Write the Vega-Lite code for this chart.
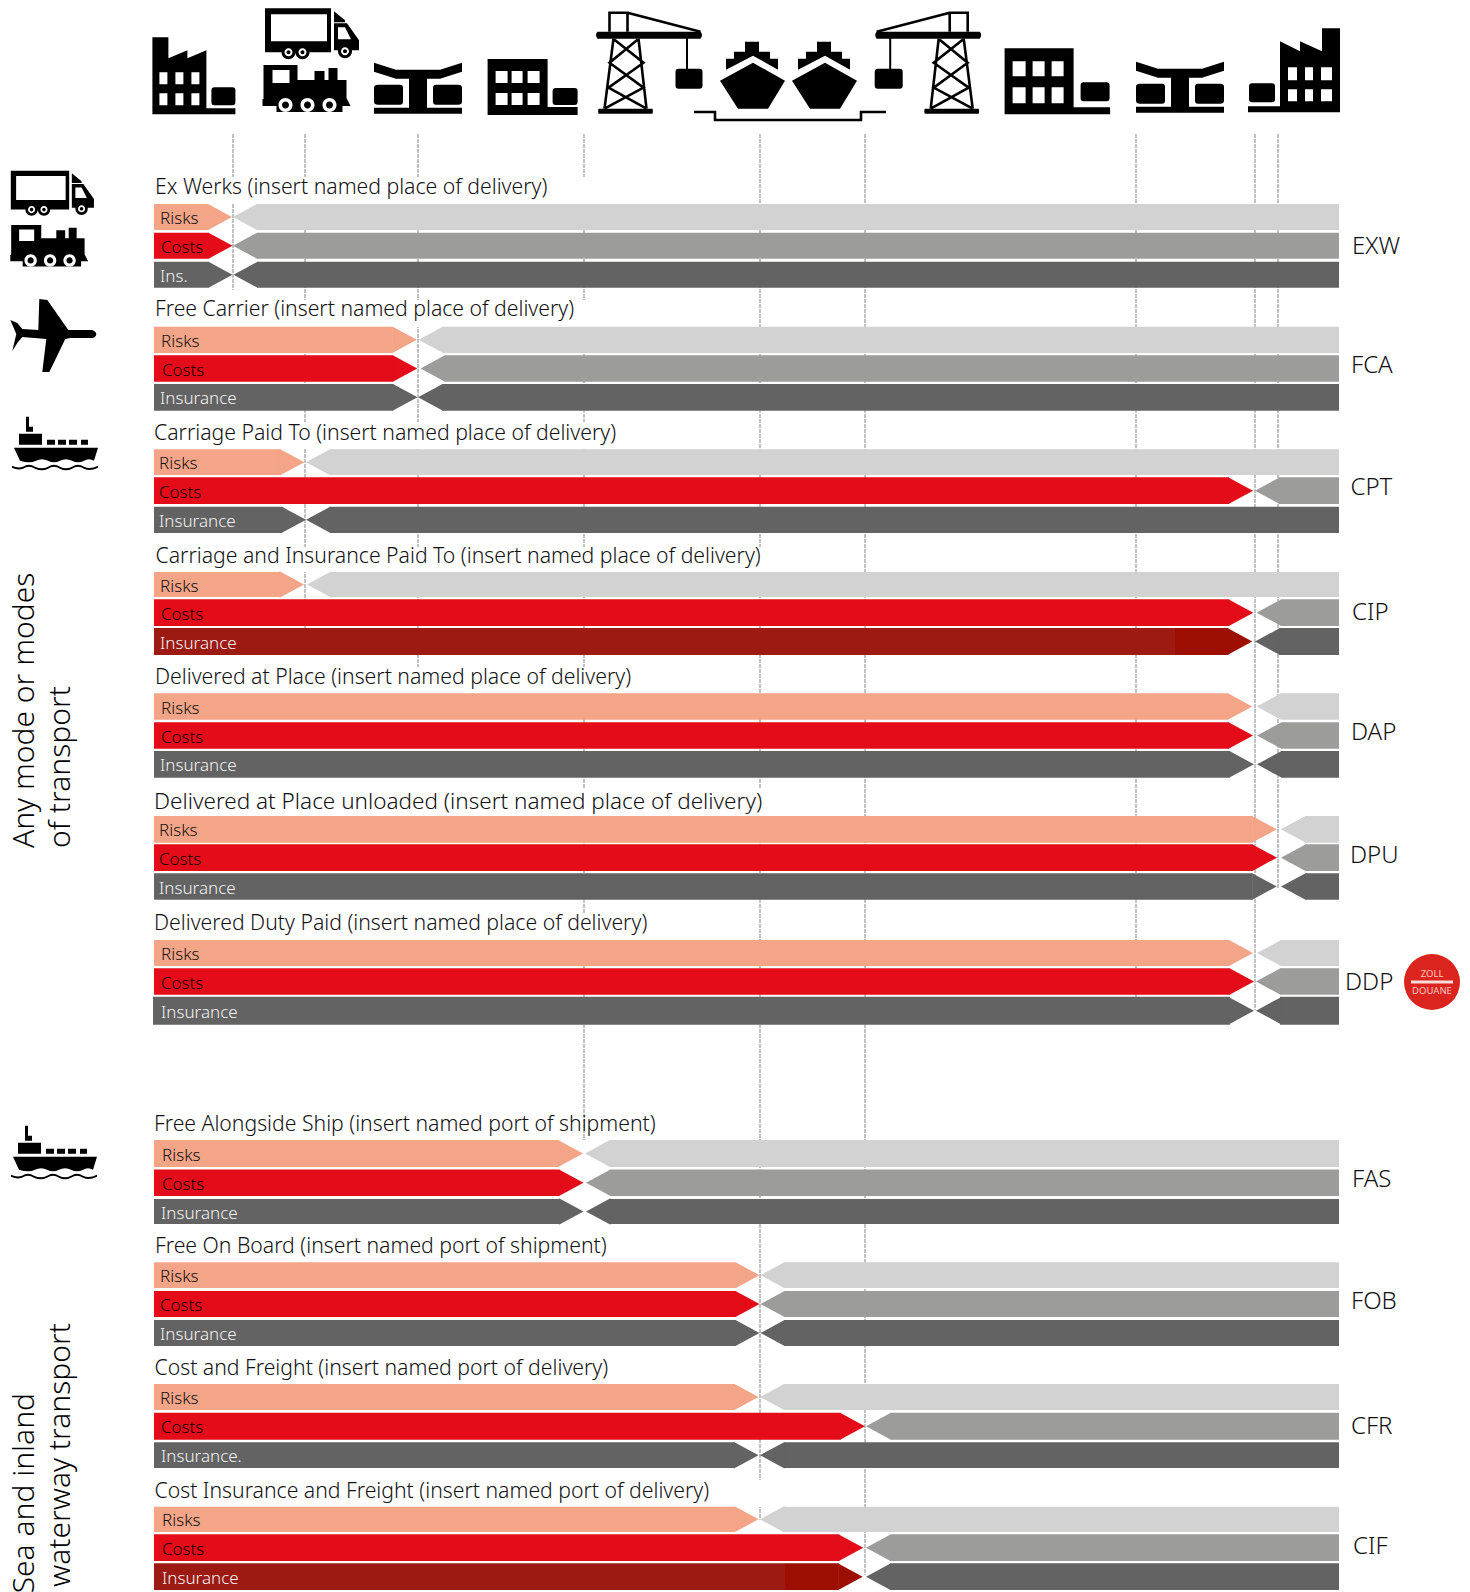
{"$schema":"https://vega.github.io/schema/vega-lite/v6.json","width":1470,"height":1592,"padding":0,"autosize":{"type":"none"},"background":"white","config":{"view":{"stroke":null},"axis":{"disable":true}},
"resolve":{"scale":{"color":"independent","shape":"independent"}},
"datasets":{
"guides":[{"x":233,"y":134,"y2":290},{"x":305,"y":134,"y2":628},{"x":418,"y":134,"y2":667},{"x":584,"y":134,"y2":1140},{"x":760,"y":134,"y2":1520},{"x":865,"y":134,"y2":1575},{"x":1136,"y":134,"y2":1000},{"x":1255,"y":134,"y2":1010},{"x":1278,"y":134,"y2":888}],
"titles":[
{"term":"EXW","title":"Ex Werks (insert named place of delivery)","x":155,"y":188,"clearTo":600,"clearTop":177,"clearBottom":204},
{"term":"FCA","title":"Free Carrier (insert named place of delivery)","x":155,"y":310,"clearTo":600,"clearTop":300,"clearBottom":327},
{"term":"CPT","title":"Carriage Paid To (insert named place of delivery)","x":154,"y":433.5,"clearTo":640,"clearTop":422,"clearBottom":449},
{"term":"CIP","title":"Carriage and Insurance Paid To (insert named place of delivery)","x":155.5,"y":556.5,"clearTo":775,"clearTop":547,"clearBottom":572},
{"term":"DAP","title":"Delivered at Place (insert named place of delivery)","x":155,"y":677.7,"clearTo":640,"clearTop":667,"clearBottom":694},
{"term":"DPU","title":"Delivered at Place unloaded (insert named place of delivery)","x":154,"y":801.5,"clearTo":775,"clearTop":789,"clearBottom":816},
{"term":"DDP","title":"Delivered Duty Paid (insert named place of delivery)","x":154,"y":923.5,"clearTo":660,"clearTop":913,"clearBottom":940},
{"term":"FAS","title":"Free Alongside Ship (insert named port of shipment)","x":154,"y":1124.7},
{"term":"FOB","title":"Free On Board (insert named port of shipment)","x":155,"y":1246.6},
{"term":"CFR","title":"Cost and Freight (insert named port of delivery)","x":154.5,"y":1369},
{"term":"CIF","title":"Cost Insurance and Freight (insert named port of delivery)","x":154.5,"y":1491.5,"clearTo":775,"clearTop":1480,"clearBottom":1507}],
"codes":[{"code":"EXW","x":1352,"y":246.5},{"code":"FCA","x":1351,"y":366.3},{"code":"CPT","x":1350.5,"y":488.2},{"code":"CIP","x":1352,"y":613.1},{"code":"DAP","x":1351,"y":733},{"code":"DPU","x":1350,"y":856},{"code":"DDP","x":1345,"y":983},{"code":"FAS","x":1352,"y":1180.1},{"code":"FOB","x":1351,"y":1302},{"code":"CFR","x":1351,"y":1427},{"code":"CIF","x":1353,"y":1546.5}],
"groupsA":[{"text":"Any mode or modes","x":24.5,"y":848},{"text":"of transport","x":61,"y":848}],
"groupsB":[{"text":"Sea and inland","x":24.5,"y":1393},{"text":"waterway transport","x":61,"y":1323}],
"bars":[
{"term":"EXW","line":"Risks","side":"seller","tone":"Risks seller","start":154,"end":208,"tipAt":208,"top":204,"bottom":230,"mid":217,"label":"Risks","labelX":160},
{"term":"EXW","line":"Costs","side":"seller","tone":"Costs seller","start":154,"end":208.5,"tipAt":208.5,"top":232.7,"bottom":258.7,"mid":245.7,"label":"Costs","labelX":161},
{"term":"EXW","line":"Insurance","side":"seller","tone":"Insurance seller","start":154,"end":208.5,"tipAt":208.5,"top":261.7,"bottom":287.7,"mid":274.7,"label":"Ins.","labelX":160},
{"term":"EXW","line":"Risks","side":"buyer","tone":"Risks buyer","start":257,"end":1339,"tipAt":257,"top":204,"bottom":230,"mid":217},
{"term":"EXW","line":"Costs","side":"buyer","tone":"Costs buyer","start":257,"end":1339,"tipAt":257,"top":232.7,"bottom":258.7,"mid":245.7},
{"term":"EXW","line":"Insurance","side":"buyer","tone":"Insurance buyer","start":257.5,"end":1339,"tipAt":257.5,"top":261.7,"bottom":287.7,"mid":274.7},
{"term":"FCA","line":"Risks","side":"seller","tone":"Risks seller","start":154,"end":392.8,"tipAt":392.8,"top":326.7,"bottom":353,"mid":339.85,"label":"Risks","labelX":161},
{"term":"FCA","line":"Costs","side":"seller","tone":"Costs seller","start":154,"end":393.3,"tipAt":393.3,"top":355.3,"bottom":381.7,"mid":368.5,"label":"Costs","labelX":162},
{"term":"FCA","line":"Insurance","side":"seller","tone":"Insurance seller","start":154,"end":393.5,"tipAt":393.5,"top":384,"bottom":410.7,"mid":397.35,"label":"Insurance","labelX":160},
{"term":"FCA","line":"Risks","side":"buyer","tone":"Risks buyer","start":442.7,"end":1339,"tipAt":442.7,"top":326.7,"bottom":353,"mid":339.85},
{"term":"FCA","line":"Costs","side":"buyer","tone":"Costs buyer","start":444.5,"end":1339,"tipAt":444.5,"top":355.3,"bottom":381.7,"mid":368.5},
{"term":"FCA","line":"Insurance","side":"buyer","tone":"Insurance buyer","start":442,"end":1339,"tipAt":442,"top":384,"bottom":410.7,"mid":397.35},
{"term":"CPT","line":"Risks","side":"seller","tone":"Risks seller","start":154,"end":280.3,"tipAt":280.3,"top":449.3,"bottom":475,"mid":462.15,"label":"Risks","labelX":159},
{"term":"CPT","line":"Costs","side":"seller","tone":"Costs seller","start":154,"end":1229,"tipAt":1229,"top":477.3,"bottom":504,"mid":490.65,"label":"Costs","labelX":159},
{"term":"CPT","line":"Insurance","side":"seller","tone":"Insurance seller","start":154,"end":282,"tipAt":282,"top":506.7,"bottom":533,"mid":519.85,"label":"Insurance","labelX":159},
{"term":"CPT","line":"Risks","side":"buyer","tone":"Risks buyer","start":330,"end":1339,"tipAt":330,"top":449.3,"bottom":475,"mid":462.15},
{"term":"CPT","line":"Costs","side":"buyer","tone":"Costs buyer","start":1279,"end":1339,"tipAt":1279,"top":477.3,"bottom":504,"mid":490.65},
{"term":"CPT","line":"Insurance","side":"buyer","tone":"Insurance buyer","start":330,"end":1339,"tipAt":330,"top":506.7,"bottom":533,"mid":519.85},
{"term":"CIP","line":"Risks","side":"seller","tone":"Risks seller","start":154,"end":280,"tipAt":280,"top":572,"bottom":597,"mid":584.5,"label":"Risks","labelX":160},
{"term":"CIP","line":"Costs","side":"seller","tone":"Costs seller","start":154,"end":1229.3,"tipAt":1229.3,"top":599.3,"bottom":626,"mid":612.65,"label":"Costs","labelX":161},
{"term":"CIP","line":"Insurance","side":"seller","tone":"Insurance cover","start":154,"end":1175,"top":628,"bottom":655,"mid":641.5,"label":"Insurance","labelX":160},
{"term":"CIP","line":"Insurance","side":"seller","tone":"Insurance cover end","start":1175,"end":1228.3,"tipAt":1228.3,"top":628,"bottom":655,"mid":641.5},
{"term":"CIP","line":"Risks","side":"buyer","tone":"Risks buyer","start":331,"end":1339,"tipAt":331,"top":572,"bottom":597,"mid":584.5},
{"term":"CIP","line":"Costs","side":"buyer","tone":"Costs buyer","start":1280.7,"end":1339,"tipAt":1280.7,"top":599.3,"bottom":626,"mid":612.65},
{"term":"CIP","line":"Insurance","side":"buyer","tone":"Insurance buyer","start":1279,"end":1339,"tipAt":1279,"top":628,"bottom":655,"mid":641.5},
{"term":"DAP","line":"Risks","side":"seller","tone":"Risks seller","start":154,"end":1228.3,"tipAt":1228.3,"top":693.3,"bottom":719.7,"mid":706.5,"label":"Risks","labelX":161},
{"term":"DAP","line":"Costs","side":"seller","tone":"Costs seller","start":154,"end":1229,"tipAt":1229,"top":722.3,"bottom":748.7,"mid":735.5,"label":"Costs","labelX":161},
{"term":"DAP","line":"Insurance","side":"seller","tone":"Insurance seller","start":154,"end":1230,"tipAt":1230,"top":751,"bottom":777.7,"mid":764.35,"label":"Insurance","labelX":160},
{"term":"DAP","line":"Risks","side":"buyer","tone":"Risks buyer","start":1280.7,"end":1339,"tipAt":1280.7,"top":693.3,"bottom":719.7,"mid":706.5},
{"term":"DAP","line":"Costs","side":"buyer","tone":"Costs buyer","start":1281,"end":1339,"tipAt":1281,"top":722.3,"bottom":748.7,"mid":735.5},
{"term":"DAP","line":"Insurance","side":"buyer","tone":"Insurance buyer","start":1281,"end":1339,"tipAt":1281,"top":751,"bottom":777.7,"mid":764.35},
{"term":"DPU","line":"Risks","side":"seller","tone":"Risks seller","start":154,"end":1252.7,"tipAt":1252.7,"top":816,"bottom":842.7,"mid":829.35,"label":"Risks","labelX":159},
{"term":"DPU","line":"Costs","side":"seller","tone":"Costs seller","start":154,"end":1253,"tipAt":1253,"top":844.3,"bottom":871,"mid":857.65,"label":"Costs","labelX":159},
{"term":"DPU","line":"Insurance","side":"seller","tone":"Insurance seller","start":154,"end":1252.7,"tipAt":1252.7,"top":873.3,"bottom":899.7,"mid":886.5,"label":"Insurance","labelX":159},
{"term":"DPU","line":"Risks","side":"buyer","tone":"Risks buyer","start":1305,"end":1339,"tipAt":1305,"top":816,"bottom":842.7,"mid":829.35},
{"term":"DPU","line":"Costs","side":"buyer","tone":"Costs buyer","start":1305,"end":1339,"tipAt":1305,"top":844.3,"bottom":871,"mid":857.65},
{"term":"DPU","line":"Insurance","side":"buyer","tone":"Insurance buyer","start":1305,"end":1339,"tipAt":1305,"top":873.3,"bottom":899.7,"mid":886.5},
{"term":"DDP","line":"Risks","side":"seller","tone":"Risks seller","start":154,"end":1229,"tipAt":1229,"top":940,"bottom":966,"mid":953,"label":"Risks","labelX":161},
{"term":"DDP","line":"Costs","side":"seller","tone":"Costs seller","start":154,"end":1230,"tipAt":1230,"top":968.3,"bottom":994.7,"mid":981.5,"label":"Costs","labelX":161},
{"term":"DDP","line":"Insurance","side":"seller","tone":"Insurance seller","start":153,"end":1230,"tipAt":1230,"top":996.7,"bottom":1024.7,"mid":1010.7,"label":"Insurance","labelX":161},
{"term":"DDP","line":"Risks","side":"buyer","tone":"Risks buyer","start":1281,"end":1339,"tipAt":1281,"top":940,"bottom":966,"mid":953},
{"term":"DDP","line":"Costs","side":"buyer","tone":"Costs buyer","start":1280,"end":1339,"tipAt":1280,"top":968.3,"bottom":994.7,"mid":981.5},
{"term":"DDP","line":"Insurance","side":"buyer","tone":"Insurance buyer","start":1280,"end":1339,"tipAt":1280,"top":996.7,"bottom":1024.7,"mid":1010.7},
{"term":"FAS","line":"Risks","side":"seller","tone":"Risks seller","start":154,"end":559,"tipAt":559,"top":1140,"bottom":1167,"mid":1153.5,"label":"Risks","labelX":162},
{"term":"FAS","line":"Costs","side":"seller","tone":"Costs seller","start":154,"end":559.5,"tipAt":559.5,"top":1169.5,"bottom":1196,"mid":1182.75,"label":"Costs","labelX":162},
{"term":"FAS","line":"Insurance","side":"seller","tone":"Insurance seller","start":154,"end":559.5,"tipAt":559.5,"top":1199,"bottom":1224,"mid":1211.5,"label":"Insurance","labelX":161},
{"term":"FAS","line":"Risks","side":"buyer","tone":"Risks buyer","start":609,"end":1339,"tipAt":609,"top":1140,"bottom":1167,"mid":1153.5},
{"term":"FAS","line":"Costs","side":"buyer","tone":"Costs buyer","start":610,"end":1339,"tipAt":610,"top":1169.5,"bottom":1196,"mid":1182.75},
{"term":"FAS","line":"Insurance","side":"buyer","tone":"Insurance buyer","start":610,"end":1339,"tipAt":610,"top":1199,"bottom":1224,"mid":1211.5},
{"term":"FOB","line":"Risks","side":"seller","tone":"Risks seller","start":154,"end":735.5,"tipAt":735.5,"top":1262.3,"bottom":1288,"mid":1275.15,"label":"Risks","labelX":160},
{"term":"FOB","line":"Costs","side":"seller","tone":"Costs seller","start":154,"end":735.5,"tipAt":735.5,"top":1291,"bottom":1317,"mid":1304,"label":"Costs","labelX":160},
{"term":"FOB","line":"Insurance","side":"seller","tone":"Insurance seller","start":154,"end":735.5,"tipAt":735.5,"top":1320,"bottom":1346,"mid":1333,"label":"Insurance","labelX":160},
{"term":"FOB","line":"Risks","side":"buyer","tone":"Risks buyer","start":784.5,"end":1339,"tipAt":784.5,"top":1262.3,"bottom":1288,"mid":1275.15},
{"term":"FOB","line":"Costs","side":"buyer","tone":"Costs buyer","start":784.5,"end":1339,"tipAt":784.5,"top":1291,"bottom":1317,"mid":1304},
{"term":"FOB","line":"Insurance","side":"buyer","tone":"Insurance buyer","start":784.5,"end":1339,"tipAt":784.5,"top":1320,"bottom":1346,"mid":1333},
{"term":"CFR","line":"Risks","side":"seller","tone":"Risks seller","start":154,"end":734.5,"tipAt":734.5,"top":1384,"bottom":1410,"mid":1397,"label":"Risks","labelX":160},
{"term":"CFR","line":"Costs","side":"seller","tone":"Costs seller","start":154,"end":841,"tipAt":841,"top":1412.7,"bottom":1439.7,"mid":1426.2,"label":"Costs","labelX":161},
{"term":"CFR","line":"Insurance","side":"seller","tone":"Insurance seller","start":154,"end":734.5,"tipAt":734.5,"top":1442.3,"bottom":1468,"mid":1455.15,"label":"Insurance.","labelX":161},
{"term":"CFR","line":"Risks","side":"buyer","tone":"Risks buyer","start":784,"end":1339,"tipAt":784,"top":1384,"bottom":1410,"mid":1397},
{"term":"CFR","line":"Costs","side":"buyer","tone":"Costs buyer","start":890,"end":1339,"tipAt":890,"top":1412.7,"bottom":1439.7,"mid":1426.2},
{"term":"CFR","line":"Insurance","side":"buyer","tone":"Insurance buyer","start":784,"end":1339,"tipAt":784,"top":1442.3,"bottom":1468,"mid":1455.15},
{"term":"CIF","line":"Risks","side":"seller","tone":"Risks seller","start":154,"end":734.5,"tipAt":734.5,"top":1506.7,"bottom":1532,"mid":1519.35,"label":"Risks","labelX":162},
{"term":"CIF","line":"Costs","side":"seller","tone":"Costs seller","start":154,"end":839.3,"tipAt":839.3,"top":1534.3,"bottom":1561,"mid":1547.65,"label":"Costs","labelX":162},
{"term":"CIF","line":"Insurance","side":"seller","tone":"Insurance cover","start":154,"end":785,"top":1563.3,"bottom":1590,"mid":1576.65,"label":"Insurance","labelX":162},
{"term":"CIF","line":"Insurance","side":"seller","tone":"Insurance cover end","start":785,"end":838.7,"tipAt":838.7,"top":1563.3,"bottom":1590,"mid":1576.65},
{"term":"CIF","line":"Risks","side":"buyer","tone":"Risks buyer","start":784,"end":1339,"tipAt":784,"top":1506.7,"bottom":1532,"mid":1519.35},
{"term":"CIF","line":"Costs","side":"buyer","tone":"Costs buyer","start":890,"end":1339,"tipAt":890,"top":1534.3,"bottom":1561,"mid":1547.65},
{"term":"CIF","line":"Insurance","side":"buyer","tone":"Insurance buyer","start":890,"end":1339,"tipAt":890,"top":1563.3,"bottom":1590,"mid":1576.65}],
"iconsFull":[
{"icon":"factoryL","tone":"solid","x":152.4,"y":37.3},{"icon":"truck","tone":"solid","x":265,"y":8.3},{"icon":"truckW","tone":"cutout","x":265,"y":8.3},{"icon":"train","tone":"solid","x":262.5,"y":65},{"icon":"trainW","tone":"cutout","x":262.5,"y":65},{"icon":"conveyor","tone":"solid","x":374,"y":62.7},{"icon":"buildingS","tone":"solid","x":487.6,"y":59},{"icon":"craneL","tone":"solid","x":594.5,"y":12.7},{"icon":"ship","tone":"solid","x":720,"y":41.7},{"icon":"ship","tone":"solid","x":792,"y":41.7},{"icon":"craneR","tone":"solid","x":874.7,"y":12.7},{"icon":"buildingB","tone":"solid","x":1004.6,"y":48.3},{"icon":"conveyor","tone":"solid","x":1136,"y":61.7},{"icon":"factoryR","tone":"solid","x":1248,"y":28.3},{"icon":"plane","tone":"solid","x":10.3,"y":299},{"icon":"vessel","tone":"solid","x":14,"y":416.7},{"icon":"vessel","tone":"solid","x":13,"y":1125.7}],
"iconsSide":[{"icon":"truck","tone":"solid","x":10.8,"y":170.7},{"icon":"truckW","tone":"cutout","x":10.8,"y":170.7},{"icon":"train","tone":"solid","x":10.3,"y":225},{"icon":"trainW","tone":"cutout","x":10.3,"y":225}],
"iconsLines":[{"icon":"craneL","x":594.5,"y":12.7},{"icon":"craneR","x":874.7,"y":12.7},{"icon":"dock","x":694,"y":112}],
"badge":[{"x":1432,"y":982}],
"badgeBar":[{"x":1411,"x2":1453,"y":982}],
"badgeText":[{"text":"ZOLL","x":1432,"y":974},{"text":"DOUANE","x":1432,"y":990.7}]
},
"layer":[
{"data":{"name":"guides"},"mark":{"type":"rule","color":"#c2c2c2","strokeWidth":2,"strokeDash":[4,1]},"encoding":{"x":{"field":"x","type":"quantitative","scale":{"domain":[0,1470],"nice":false}},"y":{"field":"y","type":"quantitative","scale":{"domain":[0,1592],"reverse":true,"nice":false}},"y2":{"field":"y2"}}},
{"data":{"name":"titles"},"transform":[{"filter":"isValid(datum.clearTo)"}],"mark":{"type":"rect","color":"white"},"encoding":{"x":{"field":"x","type":"quantitative","scale":{"domain":[0,1470],"nice":false}},"x2":{"field":"clearTo"},"y":{"field":"clearTop","type":"quantitative","scale":{"domain":[0,1592],"reverse":true,"nice":false}},"y2":{"field":"clearBottom"}}},
{"data":{"name":"bars"},"mark":{"type":"rect"},"encoding":{"x":{"field":"start","type":"quantitative","scale":{"domain":[0,1470],"nice":false}},"x2":{"field":"end"},"y":{"field":"top","type":"quantitative","scale":{"domain":[0,1592],"reverse":true,"nice":false}},"y2":{"field":"bottom"},"color":{"field":"tone","type":"nominal","legend":null,"scale":{"domain":["Risks seller","Costs seller","Insurance seller","Risks buyer","Costs buyer","Insurance buyer","Insurance cover","Insurance cover end"],"range":["#f4a487","#e30c18","#636363","#d2d2d2","#9c9c9a","#636363","#9d1a13","#9d0f02"]}}}},
{"data":{"name":"bars"},"mark":{"type":"point","filled":true,"opacity":1,"size":4,"strokeWidth":0},"encoding":{"x":{"field":"tipAt","type":"quantitative","scale":{"domain":[0,1470],"nice":false}},"y":{"field":"mid","type":"quantitative","scale":{"domain":[0,1592],"reverse":true,"nice":false}},"shape":{"field":"side","type":"nominal","legend":null,"scale":{"domain":["seller","buyer"],"range":["M-0.5,-13H0L24,0L0,13H-0.5Z","M0.5,-13H0L-24,0L0,13H0.5Z"]}},"color":{"field":"tone","type":"nominal","legend":null,"scale":{"domain":["Risks seller","Costs seller","Insurance seller","Risks buyer","Costs buyer","Insurance buyer","Insurance cover","Insurance cover end"],"range":["#f4a487","#e30c18","#636363","#d2d2d2","#9c9c9a","#636363","#9d1a13","#9d0f02"]}}}},
{"data":{"name":"bars"},"transform":[{"filter":"isValid(datum.label)"}],"mark":{"type":"text","align":"left","baseline":"middle","font":"Noto Sans","fontSize":17,"fontWeight":300,"dy":2},"encoding":{"x":{"field":"labelX","type":"quantitative","scale":{"domain":[0,1470],"nice":false}},"y":{"field":"mid","type":"quantitative","scale":{"domain":[0,1592],"reverse":true,"nice":false}},"text":{"field":"label"},"color":{"field":"line","type":"nominal","legend":null,"scale":{"domain":["Risks","Costs","Insurance"],"range":["#111111","#120000","#f2f2f2"]}}}},
{"data":{"name":"titles"},"transform":[{"filter":"datum.term != 'DPU'"}],"mark":{"type":"text","align":"left","baseline":"middle","font":"Noto Sans","fontSize":21.2,"fontWeight":300,"color":"#111111"},"encoding":{"x":{"field":"x","type":"quantitative","scale":{"domain":[0,1470],"nice":false}},"y":{"field":"y","type":"quantitative","scale":{"domain":[0,1592],"reverse":true,"nice":false}},"text":{"field":"title"}}},
{"data":{"name":"titles"},"transform":[{"filter":"datum.term == 'DPU'"}],"mark":{"type":"text","align":"left","baseline":"middle","font":"Noto Sans","fontSize":22.5,"fontWeight":300,"color":"#111111"},"encoding":{"x":{"field":"x","type":"quantitative","scale":{"domain":[0,1470],"nice":false}},"y":{"field":"y","type":"quantitative","scale":{"domain":[0,1592],"reverse":true,"nice":false}},"text":{"field":"title"}}},
{"data":{"name":"codes"},"mark":{"type":"text","align":"left","baseline":"middle","font":"Noto Sans","fontSize":24,"fontWeight":300,"color":"#111111"},"encoding":{"x":{"field":"x","type":"quantitative","scale":{"domain":[0,1470],"nice":false}},"y":{"field":"y","type":"quantitative","scale":{"domain":[0,1592],"reverse":true,"nice":false}},"text":{"field":"code"}}},
{"data":{"name":"groupsA"},"mark":{"type":"text","align":"left","baseline":"middle","angle":270,"font":"Noto Sans","fontSize":30,"fontWeight":300,"color":"#000000"},"encoding":{"x":{"field":"x","type":"quantitative","scale":{"domain":[0,1470],"nice":false}},"y":{"field":"y","type":"quantitative","scale":{"domain":[0,1592],"reverse":true,"nice":false}},"text":{"field":"text"}}},
{"data":{"name":"groupsB"},"mark":{"type":"text","align":"right","baseline":"middle","angle":270,"font":"Noto Sans","fontSize":30,"fontWeight":300,"color":"#000000"},"encoding":{"x":{"field":"x","type":"quantitative","scale":{"domain":[0,1470],"nice":false}},"y":{"field":"y","type":"quantitative","scale":{"domain":[0,1592],"reverse":true,"nice":false}},"text":{"field":"text"}}},
{"data":{"name":"badge"},"mark":{"type":"point","shape":"circle","filled":true,"opacity":1,"size":3136,"color":"#dc241f","strokeWidth":0},"encoding":{"x":{"field":"x","type":"quantitative","scale":{"domain":[0,1470],"nice":false}},"y":{"field":"y","type":"quantitative","scale":{"domain":[0,1592],"reverse":true,"nice":false}}}},
{"data":{"name":"badgeBar"},"mark":{"type":"rule","color":"#f8dcd8","strokeWidth":3},"encoding":{"x":{"field":"x","type":"quantitative","scale":{"domain":[0,1470],"nice":false}},"x2":{"field":"x2"},"y":{"field":"y","type":"quantitative","scale":{"domain":[0,1592],"reverse":true,"nice":false}}}},
{"data":{"name":"badgeText"},"mark":{"type":"text","align":"center","baseline":"middle","font":"Noto Sans","fontSize":9.5,"color":"#f6c9c4"},"encoding":{"x":{"field":"x","type":"quantitative","scale":{"domain":[0,1470],"nice":false}},"y":{"field":"y","type":"quantitative","scale":{"domain":[0,1592],"reverse":true,"nice":false}},"text":{"field":"text"}}},
{"data":{"name":"iconsLines"},"mark":{"type":"point","filled":false,"opacity":1,"size":4,"strokeWidth":2.6,"color":"#000000"},"encoding":{"x":{"field":"x","type":"quantitative","scale":{"domain":[0,1470],"nice":false}},"y":{"field":"y","type":"quantitative","scale":{"domain":[0,1592],"reverse":true,"nice":false}},"shape":{"field":"icon","type":"nominal","legend":null,"scale":{"domain":["craneL","craneR","dock"],"range":["M15,19V0H33V19M33,0L106,19M19,26L10,96M44,26L52,96M20,27L49,50L14,75L52,96M43,27L15,50L49,75L10,96","M93,19V0H75V19M75,0L2,19M89,26L98,96M64,26L56,96M88,27L59,50L94,75L56,96M65,27L93,50L59,75L98,96","M0,0H21V8H167V0H192"]}}}},
{"data":{"name":"iconsFull"},"mark":{"type":"point","filled":true,"opacity":1,"size":4,"strokeWidth":0},"encoding":{"x":{"field":"x","type":"quantitative","scale":{"domain":[0,1470],"nice":false}},"y":{"field":"y","type":"quantitative","scale":{"domain":[0,1592],"reverse":true,"nice":false}},"color":{"field":"tone","type":"nominal","legend":null,"scale":{"domain":["solid","cutout"],"range":["#000000","#ffffff"]}},"shape":{"field":"icon","type":"nominal","legend":null,"scale":{"domain":["factoryL","truck","truckW","train","trainW","conveyor","buildingS","craneL","ship","craneR","buildingB","factoryR","plane","vessel"],"range":[
"M0,0H16V21L35,13V21L54,13V71H83V77H0Z M7,35V47H15V35Z M23,35V47H31V35Z M39,35V47H47V35Z M7,56V68H15V56Z M23,56V68H31V56Z M39,56V68H47V56Z M62,50H80Q83,50 83,53V65Q83,68 80,68H62Q59,68 59,65V53Q59,50 62,50Z",
"M0,0H66V44H0Z M6,6V33H62V6Z M69,3L80,12V14H69Z M69,15H82L94,32V42H69Z M73,19V31H86L80,19Z M16.5,44a7,7 0 1,1 14,0a7,7 0 1,1 -14,0Z M30.5,44a7,7 0 1,1 14,0a7,7 0 1,1 -14,0Z M73,43a7,7 0 1,1 14,0a7,7 0 1,1 -14,0Z",
"M19.5,44a4,4 0 1,1 8,0a4,4 0 1,1 -8,0Z M21.5,44a2,2 0 1,0 4,0a2,2 0 1,0 -4,0Z M33.5,44a4,4 0 1,1 8,0a4,4 0 1,1 -8,0Z M35.5,44a2,2 0 1,0 4,0a2,2 0 1,0 -4,0Z M76,43a4,4 0 1,1 8,0a4,4 0 1,1 -8,0Z M78,43a2,2 0 1,0 4,0a2,2 0 1,0 -4,0Z",
"M1,0H35V15H52V6H62V15H66V3H75V15H84V33L88,41H80V47H14V41H0V34H1Z M10,5V18H27V5Z",
"M16,40a7,7 0 1,1 14,0a7,7 0 1,1 -14,0Z M19.5,40a3.5,3.5 0 1,0 7,0a3.5,3.5 0 1,0 -7,0Z M38,40a7,7 0 1,1 14,0a7,7 0 1,1 -14,0Z M41.5,40a3.5,3.5 0 1,0 7,0a3.5,3.5 0 1,0 -7,0Z M60,40a7,7 0 1,1 14,0a7,7 0 1,1 -14,0Z M63.5,40a3.5,3.5 0 1,0 7,0a3.5,3.5 0 1,0 -7,0Z",
"M0,0L22,7H66L88,0V9L66,16H53V45H88V51H0V45H35V16H22L0,9Z M4,22H26Q29,22 29,25V39Q29,42 26,42H4Q0,42 0,39V25Q0,22 4,22Z M62,22H84Q88,22 88,25V39Q88,42 84,42H62Q59,42 59,39V25Q59,22 62,22Z",
"M0,0H60V48H65V48H90V56H0Z M8,12V24H20V12Z M24,12V24H35V12Z M40,12V24H52V12Z M8,34V46H20V34Z M24,34V46H35V34Z M40,34V46H52V34Z M68,29H87Q90,29 90,32V43Q90,46 87,46H68Q65,46 65,43V32Q65,29 68,29Z",
"M3,19H106Q109,22 106,26H3Q0,22 3,19Z M91.5,26H93.5V57H91.5Z M84,56H105Q108,56 108,59V73Q108,76 105,76H84Q81,76 81,73V59Q81,56 84,56Z M4,96H58Q59,98.5 58,101H4Q3,98.5 4,96Z",
"M25,0H39V10H50V17H58V28L33,14L6,28V17H14V10H25Z M33,21L65,39L48,67H18L0,39Z",
"M2,19H105Q108,22 105,26H2Q-1,22 2,19Z M14.5,26H16.5V57H14.5Z M3,56H25Q28,56 28,59V73Q28,76 25,76H3Q0,76 0,73V59Q0,56 3,56Z M50,96H104Q105,98.5 104,101H50Q49,98.5 50,96Z",
"M0,0H69V59H105.5V66H0Z M8,13V28H21V13Z M28,13V28H40V13Z M47,13V28H59V13Z M8,39V55H21V39Z M28,39V55H40V39Z M47,39V55H59V39Z M79,34H102Q105,34 105,37V50Q105,53 102,53H79Q76,53 76,50V37Q76,34 79,34Z",
"M74,0H92V84H0V78H32V13L52,23V13L74,23Z M40,39V52H49V39Z M57,39V52H65V39Z M73,39V52H84V39Z M40,61V73H49V61Z M57,61V73H65V61Z M73,61V73H84V61Z M4,55H24Q27,55 27,58V71Q27,74 24,74H4Q1,74 1,71V58Q1,55 4,55Z",
"M0,21L7,24L12,30L28,31L29,0L37,1L58,31H82Q86,33 86,35Q86,38 82,39H60L55,40L39,73H32L36,40L12,38L7,44L2,52L6,35Z",
"M12,0H15V10H19V15H12Z M5,17H28V28H5Z M33,23H41V28H33Z M44,23H52V28H44Z M55,23H63V28H55Z M67,23H74V28H67Z M0,31H84L80,44Q75,41 70,44Q64,47 58,44Q52,41 46,44Q40,47 34,44Q28,41 22,44Q16,47 6,44Z M-2,49Q4,52 9,50Q15,46 21,50Q28,53 34,50Q40,46 46,50Q52,53 58,50Q64,46 70,50Q76,53 84,49V51Q76,55 70,52Q64,48 58,52Q52,55 46,52Q40,48 34,52Q28,55 21,52Q15,48 9,52Q4,54 -2,51Z"
]}}}},
{"data":{"name":"iconsSide"},"mark":{"type":"point","filled":true,"opacity":1,"size":3.13,"strokeWidth":0},"encoding":{"x":{"field":"x","type":"quantitative","scale":{"domain":[0,1470],"nice":false}},"y":{"field":"y","type":"quantitative","scale":{"domain":[0,1592],"reverse":true,"nice":false}},"color":{"field":"tone","type":"nominal","legend":null,"scale":{"domain":["solid","cutout"],"range":["#000000","#ffffff"]}},"shape":{"field":"icon","type":"nominal","legend":null,"scale":{"domain":["truck","truckW","train","trainW"],"range":[
"M0,0H66V44H0Z M6,6V33H62V6Z M69,3L80,12V14H69Z M69,15H82L94,32V42H69Z M73,19V31H86L80,19Z M16.5,44a7,7 0 1,1 14,0a7,7 0 1,1 -14,0Z M30.5,44a7,7 0 1,1 14,0a7,7 0 1,1 -14,0Z M73,43a7,7 0 1,1 14,0a7,7 0 1,1 -14,0Z",
"M19.5,44a4,4 0 1,1 8,0a4,4 0 1,1 -8,0Z M21.5,44a2,2 0 1,0 4,0a2,2 0 1,0 -4,0Z M33.5,44a4,4 0 1,1 8,0a4,4 0 1,1 -8,0Z M35.5,44a2,2 0 1,0 4,0a2,2 0 1,0 -4,0Z M76,43a4,4 0 1,1 8,0a4,4 0 1,1 -8,0Z M78,43a2,2 0 1,0 4,0a2,2 0 1,0 -4,0Z",
"M1,0H35V15H52V6H62V15H66V3H75V15H84V33L88,41H80V47H14V41H0V34H1Z M10,5V18H27V5Z",
"M16,40a7,7 0 1,1 14,0a7,7 0 1,1 -14,0Z M19.5,40a3.5,3.5 0 1,0 7,0a3.5,3.5 0 1,0 -7,0Z M38,40a7,7 0 1,1 14,0a7,7 0 1,1 -14,0Z M41.5,40a3.5,3.5 0 1,0 7,0a3.5,3.5 0 1,0 -7,0Z M60,40a7,7 0 1,1 14,0a7,7 0 1,1 -14,0Z M63.5,40a3.5,3.5 0 1,0 7,0a3.5,3.5 0 1,0 -7,0Z"
]}}}}
]}
